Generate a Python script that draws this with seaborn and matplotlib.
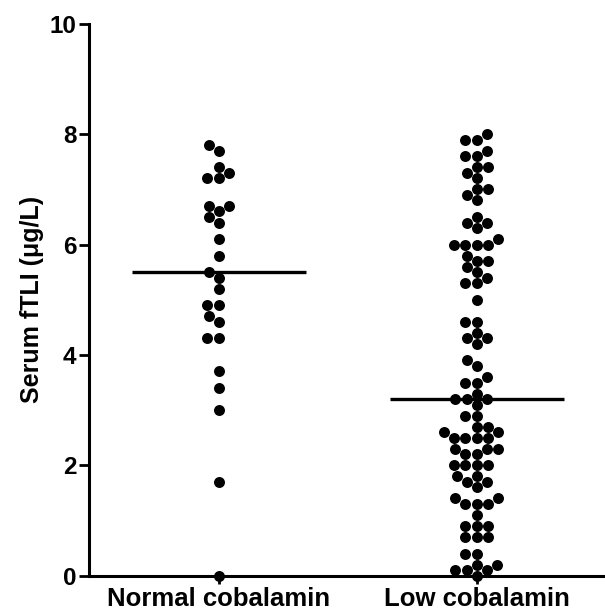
import numpy as np
import pandas as pd
import matplotlib
matplotlib.use("Agg")
import matplotlib.pyplot as plt
import seaborn as sns

# values (serum fTLI, ug/L)
groups = ["Normal cobalamin", "Low cobalamin"]
normal = [7.8, 7.7, 7.4, 7.3, 7.2, 7.2, 6.7, 6.7, 6.6, 6.5, 6.4, 6.1, 5.8, 5.5,
          5.4, 5.2, 4.9, 4.9, 4.7, 4.6, 4.3, 4.3, 3.7, 3.4, 3.0, 1.7, 0.0]
low = [8.0, 7.9, 7.9, 7.7, 7.6, 7.6, 7.4, 7.4, 7.3, 7.2, 7.0, 7.0, 6.9, 6.8,
       6.5, 6.4, 6.4, 6.3, 6.1, 6.0, 6.0, 6.0, 6.0, 5.8, 5.7, 5.7, 5.6, 5.5,
       5.4, 5.3, 5.3, 5.0, 4.6, 4.6, 4.4, 4.3, 4.3, 4.2, 3.9, 3.8, 3.6, 3.5,
       3.5, 3.3, 3.2, 3.2, 3.2, 3.1, 2.9, 2.9, 2.7, 2.7, 2.6, 2.6, 2.5, 2.5,
       2.5, 2.5, 2.3, 2.3, 2.3, 2.2, 2.2, 2.0, 2.0, 2.0, 2.0, 1.8, 1.8, 1.7,
       1.7, 1.6, 1.4, 1.4, 1.3, 1.3, 1.3, 1.1, 0.9, 0.9, 0.9, 0.7, 0.7, 0.7,
       0.4, 0.4, 0.2, 0.2, 0.1, 0.1, 0.1, 0.0]
y_ticks = [0, 2, 4, 6, 8, 10]

df = pd.DataFrame({
    "group": [groups[0]] * len(normal) + [groups[1]] * len(low),
    "value": normal + low,
})

sns.set_style("ticks", {"axes.edgecolor": "black", "text.color": "black",
                        "xtick.color": "black", "ytick.color": "black",
                        "axes.labelcolor": "black"})
plt.rcParams["font.family"] = ["Liberation Sans", "DejaVu Sans"]
plt.rcParams["font.weight"] = "bold"

fig = plt.figure(figsize=(6.05, 6.13), dpi=100)
ax = fig.add_axes([0.147, 0.061, 0.85, 0.90])

sns.swarmplot(data=df, x="group", y="value", order=groups, color="black",
              size=7.9, ax=ax)
for coll in ax.collections:
    coll.set_clip_on(False)
    coll.set_zorder(5)

# median lines
for i, vals in enumerate([normal, low]):
    ax.hlines(np.median(vals), i - 0.338, i + 0.338, color="black",
              linewidth=2.4, zorder=4)

ax.set_xlim(-0.503, 1.49)
ax.set_ylim(0, 10)
ax.set_yticks(y_ticks)
ax.set_xlabel("")
ax.set_ylabel("Serum fTLI (\u03bcg/L)", fontsize=18, fontweight="bold",
              labelpad=4)

sns.despine(ax=ax)
for side in ["left", "bottom"]:
    ax.spines[side].set_linewidth(2.2)
ax.tick_params(axis="y", length=7, width=2.0, labelsize=17.5, pad=2)
ax.tick_params(axis="x", length=6, width=2.0, labelsize=18.5, pad=2)
for lab in ax.get_xticklabels() + ax.get_yticklabels():
    lab.set_fontweight("bold")

fig.savefig("out.png", dpi=100)
